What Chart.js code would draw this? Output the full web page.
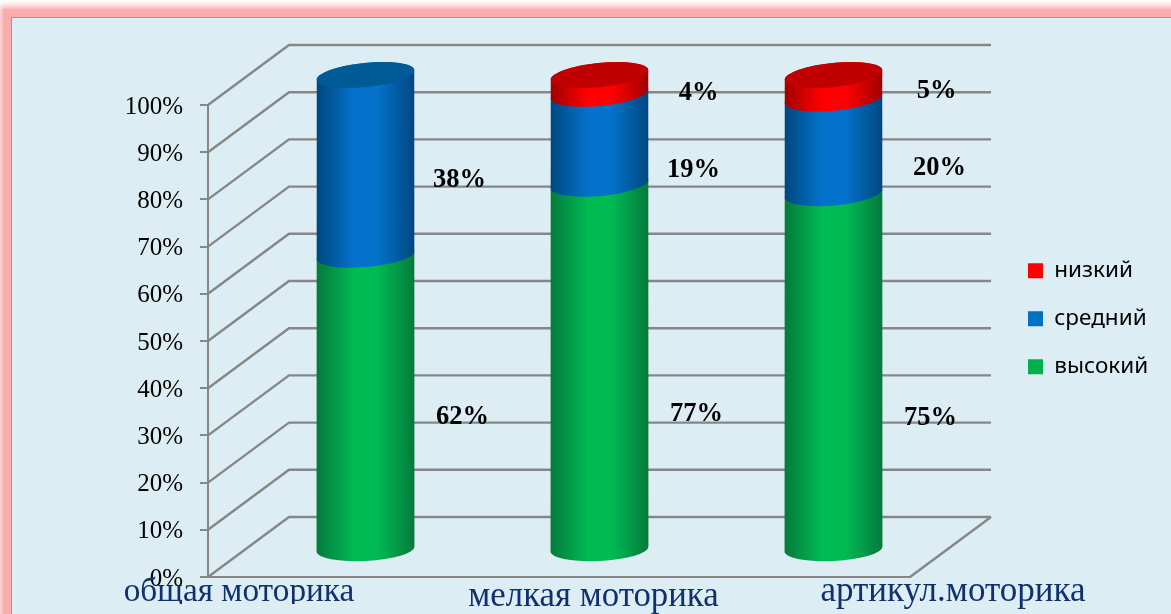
<!DOCTYPE html>
<html>
<head>
<meta charset="utf-8">
<script src="https://cdn.jsdelivr.net/npm/chart.js@4"></script>
<style>
    html, body { margin: 0; padding: 0; width: 1171px; height: 614px; overflow: hidden; background: #fff; }
    #frame { position: absolute; left: 3px; top: 9px; width: 1300px; height: 800px; background: #fbadad; box-shadow: 0 0 6px 3px #fbadad; }
    #panel { position: absolute; left: 11px; top: 17px; width: 1300px; height: 800px; background: #dceef4; border: 1px solid #62a8e2; }
    #myChart { position: absolute; left: 0; top: 0; }
</style>
</head>
<body>
<div id="frame"></div>
<div id="panel"></div>
<canvas id="myChart" width="1171" height="614"></canvas>
<script>
const categories = ["общая моторика", "мелкая моторика", "артикул.моторика"];
const seriesNames = ["высокий", "средний", "низкий"];
const highValues = [62, 77, 75];
const midValues = [38, 19, 20];
const lowValues = [0, 4, 5];

const legendColors = ["#00b050", "#0070c0", "#ff0000"];
const edgeColors = ["#047a3b", "#00477f", "#a00000"];
const centerColors = ["#00ba54", "#0472ca", "#ff0000"];
const capColors = ["#00a04a", "#005a96", "#c00000"];

// depth of the fake 3d box
const depthX = 81;
const depthY = 60;

// hand placed text boxes in the original, offsets from the middle of each segment
const labelOffsets = [
    [[97, 15], [97, 48], [97, 47]],
    [[94, 15], [94, 31], [106, 22]],
    [[0, 0], [99, 9], [103, 4]]
];
const categoryX = [239, 593.5, 953];
const categoryY = [592, 597, 592];
const categorySize = [33.3, 34.8, 35];
const categoryClip = [604, 614, 614];

// wall and floor lines
const boxPlugin = {
    id: "box",
    beforeDatasetsDraw(chart) {
        const { ctx, scales: { x, y } } = chart;
        ctx.save();
        ctx.strokeStyle = "#868686";
        ctx.lineWidth = 2.4;
        y.ticks.forEach(tick => {
            const py = y.getPixelForValue(tick.value);
            ctx.beginPath();
            ctx.moveTo(x.left, py);
            ctx.lineTo(x.left + depthX, py - depthY);
            ctx.lineTo(x.right + depthX, py - depthY);
            ctx.stroke();
        });
        const floor = y.getPixelForValue(0);
        ctx.beginPath();
        ctx.moveTo(x.right, floor);
        ctx.lineTo(x.right + depthX, floor - depthY);
        ctx.stroke();
        ctx.restore();
    }
};

function ellipseCenter(py, value) {
    return py - 28 - 2 * value / 100;
}

function tiltFor(value) {
    return -Math.atan((5 + 5 * value / 100) / 98);
}

// the bars themselves are transparent, the cylinders are drawn from their elements
const cylinderPlugin = {
    id: "cylinders",
    afterDatasetsDraw(chart) {
        const { ctx, scales: { y } } = chart;
        categories.forEach((name, c) => {
            let stacked = 0;
            let lastSet = 0;
            let cx = 0, rx = 0;
            chart.data.datasets.forEach((set, s) => {
                const value = set.data[c];
                if (!value) return;
                const bar = chart.getDatasetMeta(s).data[c];
                cx = bar.x + depthX / 2;
                rx = bar.width / 2;
                const ry = 12;
                const bottom = ellipseCenter(y.getPixelForValue(stacked), stacked);
                const top = ellipseCenter(y.getPixelForValue(stacked + value), stacked + value);
                const grad = ctx.createLinearGradient(cx - rx, 0, cx + rx, 0);
                grad.addColorStop(0, edgeColors[s]);
                grad.addColorStop(0.38, centerColors[s]);
                grad.addColorStop(0.62, centerColors[s]);
                grad.addColorStop(1, edgeColors[s]);
                ctx.beginPath();
                ctx.ellipse(cx, bottom, rx, ry, tiltFor(stacked), Math.PI, 0, true);
                ctx.ellipse(cx, top, rx, ry, tiltFor(stacked + value), 0, Math.PI, true);
                ctx.closePath();
                ctx.fillStyle = grad;
                ctx.fill();
                stacked += value;
                lastSet = s;
            });
            const capY = ellipseCenter(y.getPixelForValue(stacked), stacked);
            ctx.beginPath();
            ctx.ellipse(cx, capY, rx, 12, tiltFor(stacked), 0, Math.PI * 2);
            ctx.fillStyle = capColors[lastSet];
            ctx.fill();
        });

        // value labels
        ctx.save();
        ctx.font = "bold 26.5px 'Liberation Serif'";
        ctx.fillStyle = "#000";
        ctx.textAlign = "center";
        ctx.textBaseline = "middle";
        categories.forEach((name, c) => {
            let stacked = 0;
            chart.data.datasets.forEach((set, s) => {
                const value = set.data[c];
                if (!value) return;
                const bar = chart.getDatasetMeta(s).data[c];
                const mid = ellipseCenter(y.getPixelForValue(stacked + value / 2), stacked + value / 2);
                const off = labelOffsets[s][c];
                ctx.fillText(value + "%", bar.x + depthX / 2 + off[0], mid + off[1]);
                stacked += value;
            });
        });
        ctx.restore();

        // category captions sit in their own text boxes in the original
        categories.forEach((name, c) => {
            ctx.save();
            ctx.beginPath();
            ctx.rect(0, 0, 1171, categoryClip[c]);
            ctx.clip();
            ctx.font = categorySize[c] + "px 'Liberation Serif'";
            ctx.fillStyle = "#10306e";
            ctx.textAlign = "center";
            ctx.textBaseline = "middle";
            ctx.fillText(name, categoryX[c], categoryY[c]);
            ctx.restore();
        });
    }
};

// legend sits far right of the box, not next to it
const legendPlugin = {
    id: "moveLegend",
    afterLayout(chart) {
        const legend = chart.legend;
        legend.left = 1002.5;
        legend.right = 1171;
        legend.top = 234;
        legend.bottom = 610;
        legend.adjustHitBoxes();
    }
};

const ctx = document.getElementById("myChart").getContext("2d");
new Chart(ctx, {
    type: "bar",
    data: {
        labels: categories,
        datasets: [
            { label: seriesNames[0], data: highValues, backgroundColor: "transparent" },
            { label: seriesNames[1], data: midValues, backgroundColor: "transparent" },
            { label: seriesNames[2], data: lowValues, backgroundColor: "transparent" }
        ]
    },
    options: {
        responsive: false,
        animation: false,
        layout: { padding: { top: 105, right: 261, bottom: 0, left: 0 } },
        datasets: { bar: { categoryPercentage: 98 / 234, barPercentage: 1 } },
        scales: {
            x: {
                stacked: true,
                grid: { display: false },
                border: { color: "#868686", width: 2 },
                ticks: { display: false },
                afterFit(scale) { scale.height = 37; }
            },
            y: {
                stacked: true,
                min: 0,
                max: 100,
                afterFit(scale) { scale.width = 208; },
                grid: { drawOnChartArea: false, color: "#868686", lineWidth: 2, tickLength: 8 },
                border: { color: "#868686", width: 2 },
                ticks: {
                    stepSize: 10,
                    padding: 17,
                    labelOffset: 2,
                    color: "#000",
                    font: { family: "'Liberation Serif'", size: 25 },
                    callback: v => v + "%"
                }
            }
        },
        plugins: {
            tooltip: { enabled: false },
            legend: {
                position: "chartArea",
                align: "start",
                reverse: true,
                labels: {
                    boxWidth: 15,
                    boxHeight: 15,
                    padding: 25.5,
                    color: "#000",
                    font: { family: "'Noto Sans'", size: 22.5 },
                    generateLabels(chart) {
                        return chart.data.datasets.map((set, i) => ({
                            text: set.label,
                            fillStyle: legendColors[i],
                            strokeStyle: legendColors[i],
                            lineWidth: 0,
                            datasetIndex: i
                        }));
                    }
                }
            }
        }
    },
    plugins: [boxPlugin, legendPlugin, cylinderPlugin]
});
</script>
</body>
</html>
